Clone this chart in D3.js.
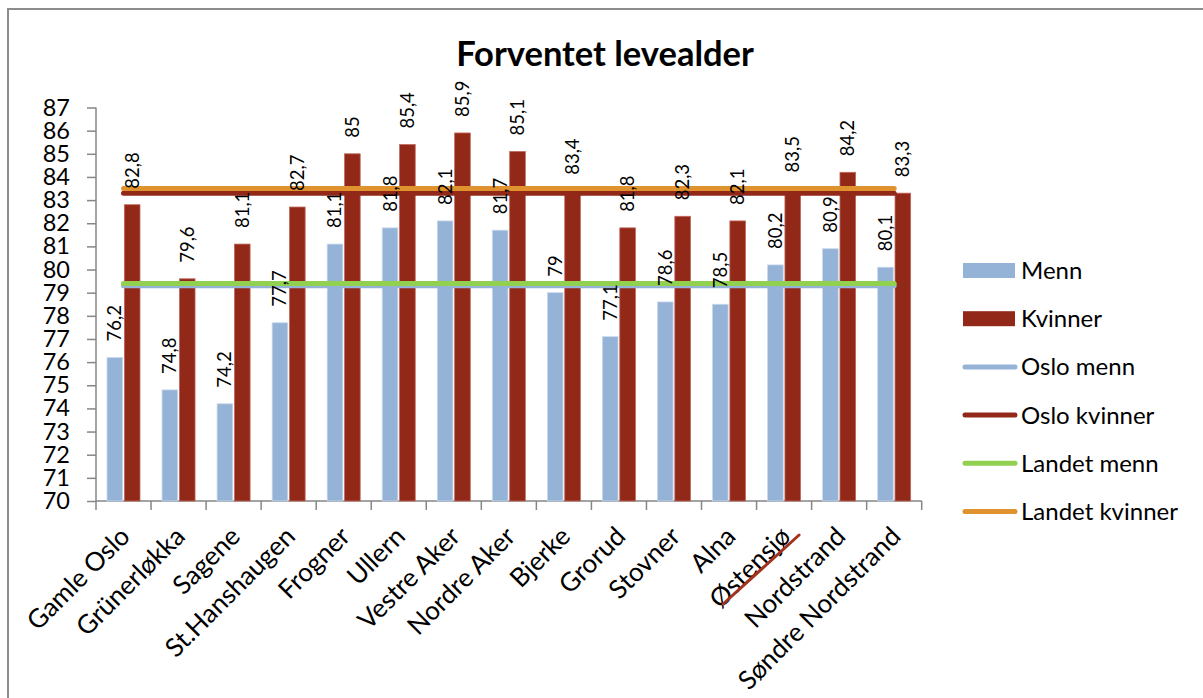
<!DOCTYPE html>
<html>
<head>
<meta charset="utf-8">
<script src="https://cdn.jsdelivr.net/npm/d3@7"></script>
<style>
  body { margin: 0; background: #fff; }
  svg { display: block; font-family: Lato, "Open Sans", sans-serif; }
</style>
</head>
<body>
<script>
// DATA

var bydeler = ["Gamle Oslo", "Grünerløkka", "Sagene", "St.Hanshaugen", "Frogner", "Ullern",
  "Vestre Aker", "Nordre Aker", "Bjerke", "Grorud", "Stovner", "Alna", "Østensjø",
  "Nordstrand", "Søndre Nordstrand"];
var menn = [76.2, 74.8, 74.2, 77.7, 81.1, 81.8, 82.1, 81.7, 79, 77.1, 78.6, 78.5, 80.2, 80.9, 80.1];
var kvinner = [82.8, 79.6, 81.1, 82.7, 85, 85.4, 85.9, 85.1, 83.4, 81.8, 82.3, 82.1, 83.5, 84.2, 83.3];
var osloMenn = 79.3;
var osloKvinner = 83.3;
var landetMenn = 79.4;
var landetKvinner = 83.5;
var yTicks = d3.range(70, 88);

var svgWidth = 1203;
var svgHeight = 698;

var svg = d3.select("body")
  .append("svg")
  .attr("width", svgWidth)
  .attr("height", svgHeight);

// chart border (runs off the right and bottom edge like the screenshot)
svg.append("rect")
  .attr("x", 8).attr("y", 9)
  .attr("width", 1220).attr("height", 720)
  .attr("fill", "none")
  .attr("stroke", "#8c8c8c")
  .attr("stroke-width", 2);

// TITLE
svg.append("text")
  .attr("x", 605).attr("y", 66)
  .attr("text-anchor", "middle")
  .attr("font-size", 34.5)
  .attr("font-weight", "bold")
  .text("Forventet levealder");

// SCALES
var x0 = d3.scaleBand().domain(bydeler).range([96, 921.7]);
var x1 = d3.scaleBand().domain(["Menn", "Kvinner"]).range([11, 44]).paddingInner(0.1);
var y = d3.scaleLinear().domain([70, 87]).range([501, 107.5]);

var chart = svg.append("g");

// Y AXIS
var leftAxis = d3.axisLeft(y).tickValues(yTicks).tickSize(9).tickPadding(17).tickFormat(d3.format("d"));
var yAxisG = chart.append("g")
  .attr("transform", "translate(96,0)")
  .call(leftAxis);
yAxisG.selectAll("path, line").attr("stroke", "#868686").attr("stroke-width", 1.5);
yAxisG.select(".domain").attr("d", "M0," + y(87) + "V" + y(70));
yAxisG.selectAll("text").attr("font-size", 23.5).attr("font-family", "Lato").attr("fill", "#000");

// X AXIS (ticks between categories)
var xAxisG = chart.append("g");
xAxisG.append("line")
  .attr("x1", x0.range()[0]).attr("x2", x0.range()[1])
  .attr("y1", y(70)).attr("y2", y(70))
  .attr("stroke", "#868686").attr("stroke-width", 1.5);
var bounds = bydeler.map(function(d) { return x0(d); }).concat([x0.range()[1]]);
xAxisG.selectAll("line.tick")
  .data(bounds)
  .enter()
  .append("line")
  .attr("class", "tick")
  .attr("x1", d => d).attr("x2", d => d)
  .attr("y1", y(70)).attr("y2", y(70) + 9)
  .attr("stroke", "#868686").attr("stroke-width", 1.5);

xAxisG.selectAll("text.cat")
  .data(bydeler)
  .enter()
  .append("text")
  .attr("class", "cat")
  .attr("text-anchor", "end")
  .attr("font-size", 26)
  .attr("transform", d => `translate(${x0(d) + x0.bandwidth() / 2 + 8}, 538) rotate(-45)`)
  .text(d => d);

// strike line drawn under "Østensjø"
var ost = x0("Østensjø") + x0.bandwidth() / 2;
svg.append("line")
  .attr("x1", ost - 61).attr("y1", 604)
  .attr("x2", ost + 15).attr("y2", 535)
  .attr("stroke", "#a3321f")
  .attr("stroke-width", 3)
  .attr("stroke-linecap", "round");

// BARS
var rows = bydeler.map(function(b, i) {
  return { bydel: b, values: [{ key: "Menn", v: menn[i] }, { key: "Kvinner", v: kvinner[i] }] };
});
var colors = { "Menn": "#95b3d7", "Kvinner": "#922818" };
var edges = { "Menn": "#c9d9ec", "Kvinner": "#c0695c" };

var groups = chart.selectAll("g.bydel")
  .data(rows)
  .enter()
  .append("g")
  .attr("class", "bydel")
  .attr("transform", d => `translate(${x0(d.bydel)},0)`);

groups.selectAll("rect")
  .data(d => d.values)
  .enter()
  .append("rect")
  .attr("x", d => x1(d.key))
  .attr("y", d => y(d.v))
  .attr("width", x1.bandwidth())
  .attr("height", d => y(70) - y(d.v))
  .attr("fill", d => colors[d.key])
  .attr("stroke", d => edges[d.key])
  .attr("stroke-width", 0.8);

// LINES
var lineSeries = [
  { name: "Oslo menn", v: osloMenn, color: "#95b3d7" },
  { name: "Oslo kvinner", v: osloKvinner, color: "#922818" },
  { name: "Landet menn", v: landetMenn, color: "#92d050" },
  { name: "Landet kvinner", v: landetKvinner, color: "#e0922e" }
];
var line = d3.line()
  .x(d => x0(d.bydel) + x0.bandwidth() / 2)
  .y(d => y(d.v));

chart.selectAll("path.serie")
  .data(lineSeries)
  .enter()
  .append("path")
  .attr("class", "serie")
  .attr("d", s => line(bydeler.map(b => ({ bydel: b, v: s.v }))))
  .attr("fill", "none")
  .attr("stroke", s => s.color)
  .attr("stroke-width", 5)
  .attr("stroke-linecap", "round");

// DATA LABELS (on top of the lines)
var fmt = d => String(d).replace(".", ",");
var labelGroups = chart.selectAll("g.labels")
  .data(rows)
  .enter()
  .append("g")
  .attr("class", "labels")
  .attr("transform", d => `translate(${x0(d.bydel)},0)`);

labelGroups.selectAll("text.val")
  .data(d => d.values)
  .enter()
  .append("text")
  .attr("class", "val")
  .attr("font-size", 18.5)
  .attr("dy", "0.35em")
  .attr("transform", d => `translate(${x1(d.key) + x1.bandwidth() / 2}, ${y(d.v) - 16}) rotate(-90)`)
  .text(d => fmt(d.v));

// LEGEND
var legendItems = [
  { name: "Menn", type: "bar", color: "#95b3d7" },
  { name: "Kvinner", type: "bar", color: "#922818" }
].concat(lineSeries.map(s => ({ name: s.name, type: "line", color: s.color })));

var legend = svg.selectAll("g.legend")
  .data(legendItems)
  .enter()
  .append("g")
  .attr("class", "legend")
  .attr("transform", (d, i) => `translate(0, ${270.5 + i * 48.2})`);

legend.filter(d => d.type === "bar")
  .append("rect")
  .attr("x", 963).attr("y", -7.5)
  .attr("width", 52).attr("height", 15)
  .attr("fill", d => d.color);

legend.filter(d => d.type === "line")
  .append("line")
  .attr("x1", 965).attr("x2", 1015)
  .attr("y1", 0).attr("y2", 0)
  .attr("stroke", d => d.color)
  .attr("stroke-width", 5)
  .attr("stroke-linecap", "round");

legend.append("text")
  .attr("x", 1021)
  .attr("dy", "0.35em")
  .attr("font-size", 24)
  .text(d => d.name);
</script>
</body>
</html>
